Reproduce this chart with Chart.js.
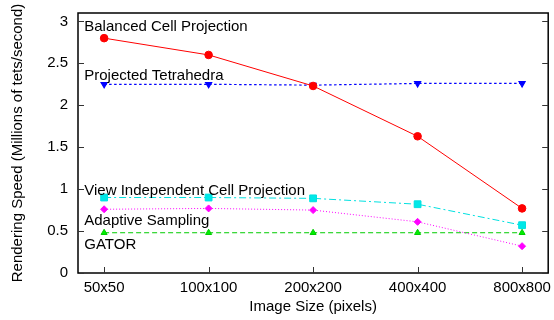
<!DOCTYPE html>
<html>
<head>
<meta charset="utf-8">
<script src="https://cdn.jsdelivr.net/npm/chart.js@4/dist/chart.umd.min.js"></script>
<style>
  body { margin: 0; background: #fff; }
  #wrap { width: 554px; height: 320px; }
</style>
</head>
<body>
<div id="wrap"><canvas id="speedChart" width="554" height="320"></canvas></div>
<script>
// 数据
const imageSizes = ['50x50', '100x100', '200x200', '400x400', '800x800'];
const balancedCell = [2.80, 2.60, 2.23, 1.63, 0.77];
const projectedTet = [2.25, 2.25, 2.24, 2.26, 2.26];
const viewIndependent = [0.90, 0.90, 0.89, 0.82, 0.57];
const adaptiveSampling = [0.76, 0.77, 0.75, 0.61, 0.32];
const gator = [0.48, 0.48, 0.48, 0.48, 0.48];
const yTicks = [0, 0.5, 1, 1.5, 2, 2.5, 3];

// 曲线旁边的文字标签（数据坐标）
const seriesLabels = [
  { text: 'Balanced Cell Projection', y: 2.93 },
  { text: 'Projected Tetrahedra', y: 2.35 },
  { text: 'View Independent Cell Projection', y: 0.98 },
  { text: 'Adaptive Sampling', y: 0.62 },
  { text: 'GATOR', y: 0.33 }
];

const FONT = '"Liberation Sans", Arial, Helvetica, sans-serif';
const FS = 15;

function toPoints(arr) {
  return arr.map((v, i) => ({ x: i, y: v }));
}

// 画边框、内侧刻度和曲线标签
const framePlugin = {
  id: 'frame',
  afterDatasetsDraw(chart) {
    const ctx = chart.ctx;
    const a = chart.chartArea;
    const xs = chart.scales.x;
    const ys = chart.scales.y;
    ctx.save();
    ctx.strokeStyle = '#000';
    ctx.lineWidth = 1.5;
    ctx.strokeRect(a.left, a.top, a.right - a.left, a.bottom - a.top);
    ctx.lineWidth = 1;
    ctx.strokeStyle = '#333';
    ctx.beginPath();
    yTicks.forEach(t => {
      const py = Math.round(ys.getPixelForValue(t)) + 0.5;
      ctx.moveTo(a.left, py); ctx.lineTo(a.left + 6, py);
      ctx.moveTo(a.right, py); ctx.lineTo(a.right - 6, py);
    });
    imageSizes.forEach((s, i) => {
      const px = Math.round(xs.getPixelForValue(i)) + 0.5;
      ctx.moveTo(px, a.bottom); ctx.lineTo(px, a.bottom - 6);
    });
    ctx.stroke();

    ctx.fillStyle = '#000';
    ctx.font = FS + 'px ' + FONT;
    ctx.textAlign = 'left';
    ctx.textBaseline = 'middle';
    seriesLabels.forEach(l => {
      ctx.fillText(l.text, xs.getPixelForValue(-0.19), ys.getPixelForValue(l.y));
    });
    ctx.restore();
  }
};

const ctx = document.getElementById('speedChart').getContext('2d');
const speedChart = new Chart(ctx, {
  type: 'line',
  data: {
    datasets: [
      {
        label: 'Balanced Cell Projection',
        data: toPoints(balancedCell),
        borderColor: '#ff0000',
        backgroundColor: '#ff0000',
        borderWidth: 1,
        pointStyle: 'circle',
        pointRadius: 3.8
      },
      {
        label: 'Projected Tetrahedra',
        data: toPoints(projectedTet),
        borderColor: '#0000ff',
        backgroundColor: '#0000ff',
        borderWidth: 1.2,
        borderDash: [2.5, 2.5],
        pointStyle: 'triangle',
        rotation: 180,
        pointRadius: 3.5
      },
      {
        label: 'View Independent Cell Projection',
        data: toPoints(viewIndependent),
        borderColor: '#00e0e0',
        backgroundColor: '#00e8e8',
        borderWidth: 1,
        borderDash: [7, 3, 2, 3],
        pointStyle: 'rect',
        pointRadius: 4.8
      },
      {
        label: 'Adaptive Sampling',
        data: toPoints(adaptiveSampling),
        borderColor: '#ff00ff',
        backgroundColor: '#ff00ff',
        borderWidth: 1,
        borderDash: [1, 2],
        pointStyle: 'rectRot',
        pointRadius: 3.5
      },
      {
        label: 'GATOR',
        data: toPoints(gator),
        borderColor: '#00cc00',
        backgroundColor: '#00ee00',
        borderWidth: 1,
        borderDash: [5, 3],
        pointStyle: 'triangle',
        pointRadius: 3.5
      }
    ]
  },
  options: {
    responsive: false,
    animation: false,
    layout: { padding: { top: 13, right: 2, left: 0, bottom: 0 } },
    plugins: {
      legend: { display: false },
      tooltip: { enabled: false }
    },
    scales: {
      x: {
        type: 'linear',
        min: -0.25,
        max: 4.25,
        afterBuildTicks: scale => { scale.ticks = imageSizes.map((s, i) => ({ value: i })); },
        afterFit: scale => {
          scale.height = 47;
          scale.paddingLeft = 0;
          scale.paddingRight = 0;
        },
        grid: { display: false, drawTicks: false },
        border: { display: false },
        ticks: {
          padding: 6,
          color: '#000',
          font: { family: FONT, size: FS },
          maxRotation: 0,
          autoSkip: false,
          callback: v => imageSizes[v]
        },
        title: {
          display: true,
          text: 'Image Size (pixels)',
          color: '#000',
          font: { family: FONT, size: FS },
          padding: { top: 2, bottom: 4 }
        }
      },
      y: {
        min: 0,
        max: 3.1,
        afterBuildTicks: scale => { scale.ticks = yTicks.map(v => ({ value: v })); },
        afterFit: scale => {
          scale.width = 78;
          scale.paddingTop = 0;
          scale.paddingBottom = 0;
        },
        grid: { display: false, drawTicks: false },
        border: { display: false },
        ticks: {
          padding: 10,
          color: '#000',
          font: { family: FONT, size: FS },
          callback: v => String(v)
        },
        title: {
          display: true,
          text: 'Rendering Speed (Millions of tets/second)',
          color: '#000',
          font: { family: FONT, size: FS },
          padding: { top: 9, bottom: 0 }
        }
      }
    }
  },
  plugins: [framePlugin]
});
</script>
</body>
</html>
